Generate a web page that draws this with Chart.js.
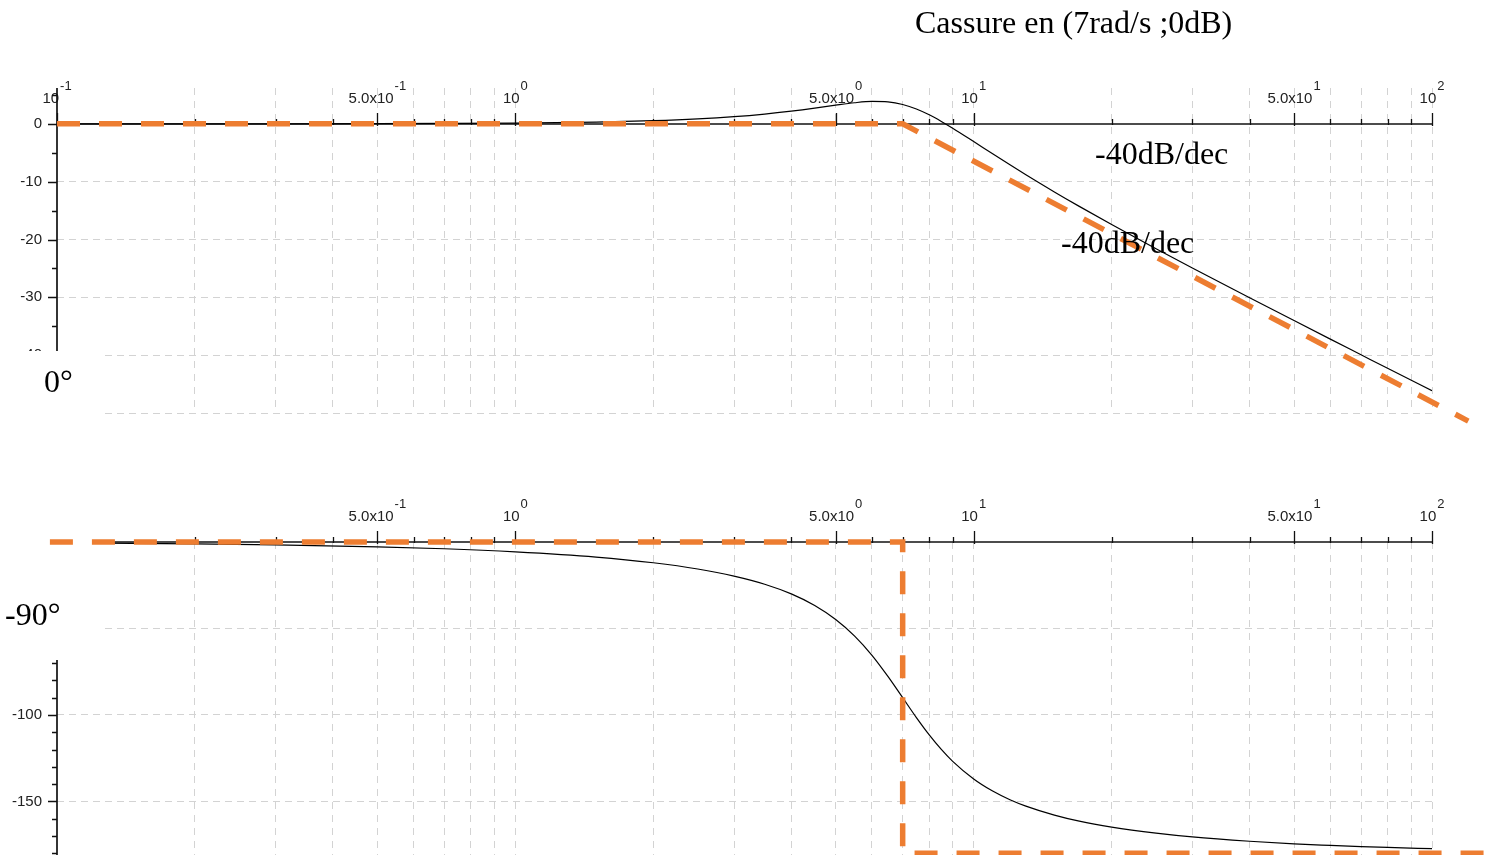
<!DOCTYPE html>
<html>
<head>
<meta charset="utf-8">
<script src="https://cdn.jsdelivr.net/npm/chart.js@4.4.0/dist/chart.umd.min.js"></script>
<style>
  body { margin: 0; background: #fff; width: 1495px; height: 855px; overflow: hidden; position: relative; }
  .box { position: absolute; left: 0; width: 1495px; }
  .note { position: absolute; font-family: "Liberation Serif", "Times New Roman", serif; font-size: 32px; line-height: 32px; color: #000; white-space: nowrap; }
</style>
</head>
<body>
<div class="box" style="top:0;height:440px"><canvas id="magCanvas"></canvas></div>
<div class="box" style="top:440px;height:430px"><canvas id="phaseCanvas"></canvas></div>

<div class="note" style="left:915px;top:6px">Cassure en (7rad/s ;0dB)</div>
<div class="note" style="left:1095px;top:137px">-40dB/dec</div>
<div class="note" style="left:1061px;top:226px">-40dB/dec</div>
<div class="note" style="left:44px;top:365px">0°</div>
<div class="note" style="left:5px;top:598px">-90°</div>

<script>
/*
*Values
*/
const freq = [0.1, 0.2, 0.3, 0.5, 0.7, 1, 1.5, 2, 2.5, 3, 3.5, 4, 4.5, 5, 5.5, 6, 6.5, 7, 7.5, 8, 8.5, 9, 10, 11, 12, 13, 15, 17, 20, 25, 30, 40, 50, 60, 70, 80, 100];
const gainDb = [0, 0.01, 0.01, 0.03, 0.07, 0.14, 0.31, 0.55, 0.86, 1.24, 1.69, 2.19, 2.71, 3.23, 3.65, 3.87, 3.79, 3.35, 2.58, 1.56, 0.42, -0.76, -3.07, -5.19, -7.09, -8.8, -11.77, -14.27, -17.41, -21.59, -24.92, -30.07, -34.02, -37.23, -39.93, -42.27, -46.16];
const phaseFreq = [0.125, 0.2, 0.3, 0.5, 0.7, 1, 1.5, 2, 2.5, 3, 3.5, 4, 4.5, 5, 5.5, 6, 6.5, 7, 7.5, 8, 8.5, 9, 10, 11, 12, 13, 15, 17, 20, 25, 30, 40, 50, 60, 70, 80, 100];
const phaseDeg = [-0.7, -1.1, -1.7, -2.8, -3.9, -5.7, -8.7, -12, -15.6, -19.7, -24.4, -30, -36.7, -44.8, -54.4, -65.5, -77.7, -90, -101.5, -111.5, -119.9, -126.8, -137, -144, -149, -152.7, -157.9, -161.4, -164.8, -168.3, -170.5, -173, -174.5, -175.4, -176.1, -176.6, -177.3];

// asymptotes drawn by hand (orange)
const gainAsymFreq = [0.1, 7, 120];
const gainAsymDb = [0, 0, -51.4];
const phaseAsymFreq = [0.0965, 7, 7, 138];
const phaseAsymDeg = [0, 0, -180, -180];

// tick labels
const xMajorTicks = [0.1, 0.5, 1, 5, 10, 50, 100];
const xLabelBase = ['10', '5.0x10', '10', '5.0x10', '10', '5.0x10', '10'];
const xLabelExp = ['-1', '-1', '0', '0', '1', '1', '2'];
const xMinorTicks = [0.2, 0.3, 0.4, 0.6, 0.7, 0.8, 0.9, 2, 3, 4, 6, 7, 8, 9, 20, 30, 40, 60, 70, 80, 90];
const xGridTicks = [0.2, 0.3, 0.4, 0.5, 0.6, 0.7, 0.8, 0.9, 1, 2, 3, 4, 5, 6, 7, 8, 9, 10, 20, 30, 40, 50, 60, 70, 80, 90, 100];

const gainMajorTicks = [0, -10, -20, -30, -40];
const gainMinorTicks = [5, -5, -15, -25, -35, -45];
const gainGridTicks = [-50, -40, -30, -20, -10];
const phaseMajorTicks = [-50, -100, -150];
const phaseMinorTicks = [-10, -20, -30, -40, -60, -70, -80, -90, -110, -120, -130, -140, -160, -170, -180];
const phaseGridTicks = [-150, -100, -50];

const colors = {
    ORANGE: '#ED7D31',
    CURVE: '#000000',
    AXIS: '#111111',
    GRID: '#d3d3d3',
    TEXT: '#222222'
}
const LABEL_FONT = '15px "Liberation Sans", Arial, sans-serif';
const EXP_FONT = '13px "Liberation Sans", Arial, sans-serif';

function toPoints(xs, ys){
    return xs.map((x, i) => ({x: x, y: ys[i]}));
}

/*
*Draw a "10^n" style label centered on x
*/
function drawPowerLabel(ctx, x, baseY, base, exp){
    ctx.font = LABEL_FONT;
    const wb = ctx.measureText(base).width;
    ctx.font = EXP_FONT;
    const we = ctx.measureText(exp).width;
    const left = x - (wb + 1 + we) / 2;
    ctx.textAlign = 'left';
    ctx.textBaseline = 'alphabetic';
    ctx.font = LABEL_FONT;
    ctx.fillText(base, left, baseY);
    ctx.font = EXP_FONT;
    ctx.fillText(exp, left + wb + 1, baseY - 13);
}

/*
*Axis lines, ticks, labels and the white patch that hides part of the plot
*cfg: yMajor, yMinor, cover rect
*/
function makeAxesPlugin(cfg){
    return {
        id: 'bodeAxes',
        beforeDatasetsDraw(chart){
            const ctx = chart.ctx;
            const xs = chart.scales.x;
            const ys = chart.scales.y;
            const area = chart.chartArea;
            const y0 = Math.round(ys.getPixelForValue(0));
            const xl = Math.round(xs.getPixelForValue(0.1));
            const xr = Math.round(xs.getPixelForValue(100));
            ctx.save();
            ctx.strokeStyle = colors.AXIS;
            ctx.fillStyle = colors.TEXT;

            // x axis line
            ctx.lineWidth = 1.7;
            ctx.beginPath();
            ctx.moveTo(xl, y0);
            ctx.lineTo(xr + 1, y0);
            ctx.stroke();

            // x ticks (pointing up)
            ctx.lineWidth = 1.3;
            ctx.beginPath();
            xMinorTicks.forEach(v => {
                const px = Math.round(xs.getPixelForValue(v)) + 0.5;
                ctx.moveTo(px, y0 + 1);
                ctx.lineTo(px, y0 - 5);
            });
            xMajorTicks.forEach(v => {
                const px = Math.round(xs.getPixelForValue(v)) + 0.5;
                ctx.moveTo(px, y0 + 2);
                ctx.lineTo(px, y0 - 11);
            });
            ctx.stroke();
            for(let i = 0; i < xMajorTicks.length; i++){
                drawPowerLabel(ctx, xs.getPixelForValue(xMajorTicks[i]), y0 - 21, xLabelBase[i], xLabelExp[i]);
            }

            // y axis line
            ctx.lineWidth = 1.7;
            ctx.beginPath();
            ctx.moveTo(xl, area.top);
            ctx.lineTo(xl, area.bottom);
            ctx.stroke();
            ctx.lineWidth = 1.3;
            ctx.beginPath();
            cfg.yMinor.forEach(v => {
                const py = Math.round(ys.getPixelForValue(v)) + 0.5;
                ctx.moveTo(xl - 5, py);
                ctx.lineTo(xl, py);
            });
            cfg.yMajor.forEach(v => {
                const py = Math.round(ys.getPixelForValue(v)) + 0.5;
                ctx.moveTo(xl - 9, py);
                ctx.lineTo(xl, py);
            });
            ctx.stroke();
            ctx.font = LABEL_FONT;
            ctx.textAlign = 'right';
            ctx.textBaseline = 'middle';
            cfg.yMajor.forEach(v => {
                ctx.fillText(String(v), xl - 15, ys.getPixelForValue(v));
            });

            // white patch
            ctx.fillStyle = '#ffffff';
            ctx.fillRect(cfg.cover[0], cfg.cover[1], cfg.cover[2], cfg.cover[3]);
            ctx.restore();
        }
    };
}

/*
*Shared options for one panel
*/
function panelOptions(padding, yMin, yMax, yGrid){
    return {
        responsive: true,
        maintainAspectRatio: false,
        animation: false,
        events: [],
        layout: { padding: padding },
        plugins: { legend: { display: false }, tooltip: { enabled: false } },
        scales: {
            x: {
                type: 'logarithmic',
                min: 0.1,
                max: 100,
                afterBuildTicks: scale => { scale.ticks = xGridTicks.map(v => ({value: v})); },
                ticks: { display: false },
                grid: { color: colors.GRID, lineWidth: 1, drawTicks: false },
                border: { display: false, dash: [7, 6] }
            },
            y: {
                type: 'linear',
                min: yMin,
                max: yMax,
                afterBuildTicks: scale => { scale.ticks = yGrid.map(v => ({value: v})); },
                ticks: { display: false },
                grid: { color: colors.GRID, lineWidth: 1, drawTicks: false },
                border: { display: false, dash: [7, 5] }
            }
        }
    };
}

function asymptoteDataset(points){
    return {
        data: points,
        showLine: true,
        borderColor: colors.ORANGE,
        borderWidth: 5.5,
        borderDash: [23, 19],
        borderCapStyle: 'butt',
        pointRadius: 0,
        clip: false
    };
}

function curveDataset(points){
    return {
        data: points,
        showLine: true,
        borderColor: colors.CURVE,
        borderWidth: 1.2,
        pointRadius: 0,
        cubicInterpolationMode: 'monotone'
    };
}

function drawGainChart(){
    new Chart(document.getElementById('magCanvas'), {
        type: 'scatter',
        data: { datasets: [
            asymptoteDataset(toPoints(gainAsymFreq, gainAsymDb)),
            curveDataset(toPoints(freq, gainDb))
        ]},
        options: panelOptions({left: 57, right: 63, top: 88, bottom: 27}, -50, 6.2, gainGridTicks),
        plugins: [makeAxesPlugin({ yMajor: gainMajorTicks, yMinor: gainMinorTicks, cover: [0, 351, 104, 100] })]
    });
}

function drawPhaseChart(){
    new Chart(document.getElementById('phaseCanvas'), {
        type: 'scatter',
        data: { datasets: [
            asymptoteDataset(toPoints(phaseAsymFreq, phaseAsymDeg)),
            curveDataset(toPoints(phaseFreq, phaseDeg))
        ]},
        options: panelOptions({left: 57, right: 63, top: 102, bottom: 8}, -185, 0, phaseGridTicks),
        plugins: [makeAxesPlugin({ yMajor: phaseMajorTicks, yMinor: phaseMinorTicks, cover: [0, 0, 103, 220] })]
    });
}

drawGainChart();
drawPhaseChart();
</script>
</body>
</html>
